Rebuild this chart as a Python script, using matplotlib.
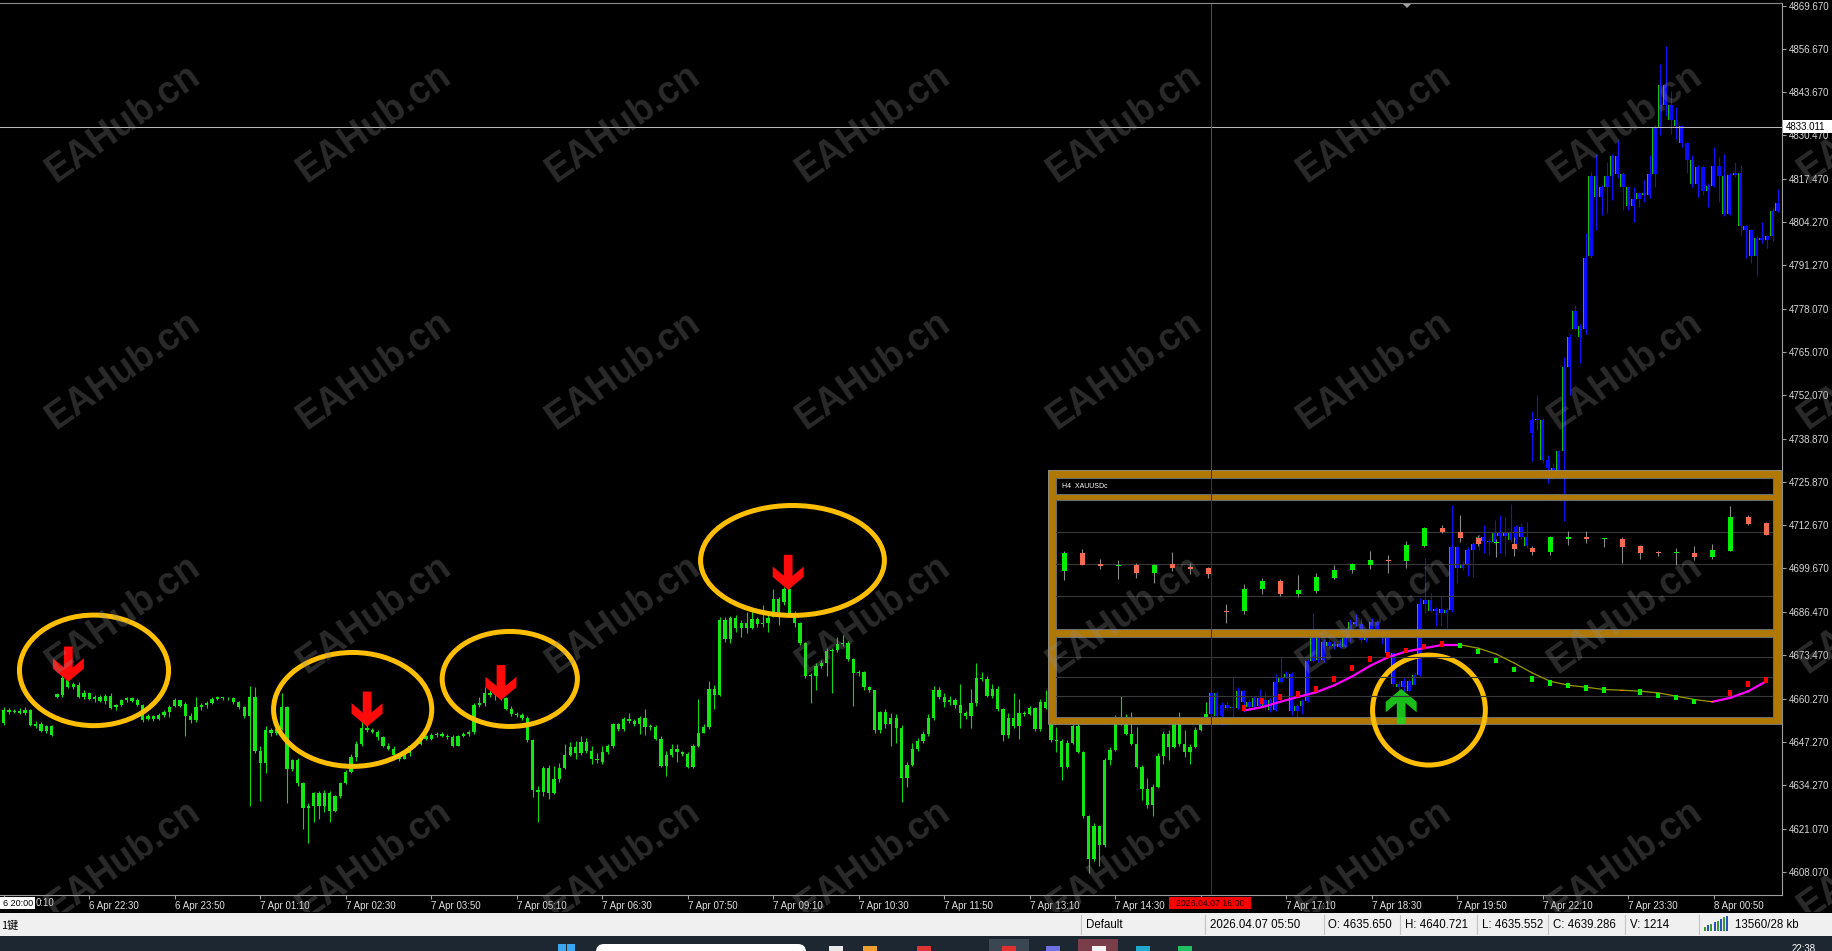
import numpy as np
import matplotlib
matplotlib.use("Agg")
import matplotlib.pyplot as plt
from matplotlib.patches import Rectangle, Ellipse, Polygon, FancyBboxPatch
from matplotlib.transforms import Affine2D

plt.rcParams['font.family'] = ['Liberation Sans', 'DejaVu Sans']

W, H, DPI = 1833, 951, 100

# ---------------- main chart: XAUUSD M5 bars ----------------
opens = [
    4653.0, 4657.0, 4656.2, 4656.7, 4656.0, 4657.0, 4652.8, 4652.8, 4652.0, 4652.0,
    4660.8, 4661.5, 4667.0, 4664.0, 4664.5, 4661.0, 4662.0, 4660.2, 4661.0, 4659.7,
    4661.3, 4657.8, 4658.4, 4659.8, 4660.4, 4660.0, 4658.5, 4654.2, 4655.2, 4654.2,
    4655.4, 4656.2, 4658.0, 4659.8, 4658.6, 4655.2, 4654.0, 4657.8, 4658.4, 4659.0,
    4660.3, 4660.8, 4660.4, 4660.6, 4659.2, 4657.8, 4655.0, 4661.0, 4644.5, 4640.8,
    4650.8, 4650.0, 4651.2, 4657.8, 4639.2, 4641.8, 4634.8, 4627.2, 4628.0, 4631.8,
    4628.0, 4631.8, 4626.5, 4630.8, 4634.8, 4638.2, 4642.8, 4646.8, 4651.5, 4650.8,
    4650.4, 4648.8, 4646.2, 4645.2, 4643.2, 4642.2, 4643.8, 4646.0, 4646.8, 4649.0,
    4648.2, 4649.4, 4649.8, 4649.2, 4648.8, 4646.2, 4649.0, 4649.8, 4650.2, 4658.5,
    4659.0, 4662.2, 4661.5, 4662.2, 4660.5, 4657.2, 4655.8, 4655.4, 4654.5, 4648.0,
    4632.8, 4632.2, 4639.5, 4631.8, 4636.0, 4639.5, 4643.2, 4645.8, 4643.8, 4647.2,
    4644.5, 4642.2, 4641.1, 4644.3, 4646.1, 4652.6, 4651.1, 4654.1, 4653.5, 4652.8,
    4654.5, 4651.7, 4651.9, 4648.3, 4640.1, 4643.3, 4645.1, 4644.1, 4643.6, 4639.6,
    4646.1, 4649.9, 4651.9, 4663.3, 4661.6, 4684.1, 4678.3, 4684.6, 4681.6, 4683.1,
    4681.8, 4684.5, 4682.9, 4683.1, 4685.1, 4690.6, 4689.6, 4693.6, 4686.3, 4683.1,
    4677.1, 4667.1, 4667.3, 4670.3, 4671.1, 4674.6, 4674.9, 4676.9, 4677.3, 4672.3,
    4668.1, 4668.3, 4663.9, 4662.9, 4650.9, 4656.3, 4652.6, 4654.6, 4651.6, 4636.3,
    4640.3, 4645.1, 4647.7, 4649.7, 4654.6, 4662.9, 4660.9, 4659.3, 4659.9, 4658.3,
    4656.1, 4655.1, 4659.1, 4666.6, 4666.3, 4661.3, 4663.3, 4657.1, 4649.3, 4654.6,
    4652.1, 4656.1, 4655.7, 4657.5, 4651.1, 4659.3, 4657.6, 4647.8, 4647.6, 4639.8,
    4647.0, 4652.0, 4644.3, 4624.8, 4612.0, 4622.0, 4616.0, 4641.8, 4644.8, 4652.6,
    4654.8, 4649.8, 4646.8, 4639.8, 4633.2, 4628.3, 4633.8, 4643.0, 4649.8, 4645.8,
    4652.8, 4646.6, 4644.2, 4645.8, 4651.0, 4653.0, 4655.8, 4662.0, 4655.0, 4658.3,
    4657.6, 4657.4, 4662.6, 4659.3, 4657.8, 4660.6, 4658.2, 4659.8, 4657.0, 4665.3,
    4667.0, 4667.8, 4656.6, 4658.0, 4659.6, 4671.6, 4678.8, 4672.0, 4677.6, 4676.2,
    4676.8, 4676.0, 4679.0, 4683.6, 4683.0, 4678.0, 4680.0, 4683.6, 4679.8, 4680.0,
    4674.0, 4664.8, 4664.0, 4665.8, 4664.6, 4667.4, 4689.0, 4690.3, 4686.8, 4687.3,
    4686.3, 4687.1, 4706.1, 4699.8, 4700.6, 4705.3, 4707.1, 4709.1, 4708.1, 4707.7,
    4710.3, 4709.5, 4710.3, 4708.3, 4712.1, 4709.1, 4740.6, 4744.8, 4744.4, 4732.4,
    4730.1, 4728.4, 4735.1, 4760.4, 4772.0, 4773.0, 4772.1, 4794.0, 4818.2, 4811.8,
    4814.8, 4818.2, 4824.2, 4818.8, 4814.8, 4809.2, 4811.2, 4813.0, 4812.4, 4818.8,
    4832.8, 4845.8, 4839.8, 4835.2, 4833.2, 4828.2, 4823.0, 4815.8, 4821.0, 4813.8,
    4815.2, 4821.2, 4818.2, 4806.8, 4818.5, 4819.2, 4803.2, 4801.8, 4794.2, 4799.5,
    4799.0, 4800.0, 4807.8]
highs = [
    4657.8, 4657.5, 4657.2, 4657.4, 4657.8, 4657.2, 4653.5, 4653.2, 4652.5, 4652.4,
    4662.2, 4667.5, 4667.8, 4665.5, 4665.5, 4663.0, 4662.5, 4661.5, 4661.4, 4661.8,
    4662.0, 4658.8, 4660.2, 4661.0, 4660.8, 4660.5, 4658.8, 4655.8, 4655.5, 4656.0,
    4657.0, 4658.5, 4660.4, 4660.0, 4659.2, 4656.0, 4660.8, 4659.0, 4659.5, 4660.8,
    4661.2, 4661.0, 4661.0, 4660.9, 4659.5, 4658.2, 4664.2, 4663.8, 4646.0, 4652.0,
    4651.5, 4652.0, 4662.2, 4658.2, 4642.2, 4642.5, 4635.2, 4628.8, 4632.2, 4632.5,
    4632.8, 4632.5, 4631.2, 4635.2, 4638.8, 4643.5, 4647.5, 4654.2, 4653.0, 4651.5,
    4651.0, 4649.2, 4647.0, 4646.0, 4644.0, 4644.5, 4646.5, 4647.2, 4650.0, 4649.5,
    4650.0, 4650.2, 4650.2, 4649.8, 4649.5, 4649.5, 4650.2, 4650.8, 4659.0, 4661.0,
    4663.8, 4663.8, 4663.8, 4664.5, 4661.0, 4658.2, 4656.2, 4656.0, 4655.0, 4648.2,
    4634.0, 4640.0, 4640.2, 4640.0, 4641.0, 4646.8, 4647.2, 4647.5, 4649.0, 4648.5,
    4646.0, 4644.0, 4646.1, 4646.6, 4653.1, 4652.9, 4654.9, 4656.1, 4654.1, 4655.1,
    4657.3, 4652.6, 4652.3, 4649.1, 4644.6, 4646.6, 4646.6, 4644.6, 4644.3, 4646.6,
    4660.1, 4652.6, 4665.6, 4664.6, 4684.9, 4685.1, 4685.3, 4685.6, 4684.1, 4686.6,
    4687.1, 4684.9, 4688.6, 4685.6, 4693.6, 4691.1, 4694.1, 4694.3, 4686.9, 4683.6,
    4677.6, 4668.1, 4671.1, 4672.1, 4675.6, 4675.6, 4679.1, 4679.6, 4677.9, 4672.6,
    4669.1, 4668.7, 4664.3, 4663.1, 4656.6, 4657.1, 4656.1, 4655.6, 4652.3, 4641.1,
    4647.1, 4648.6, 4650.6, 4655.6, 4664.1, 4663.9, 4662.1, 4661.1, 4660.6, 4664.9,
    4656.6, 4663.3, 4671.1, 4668.3, 4667.1, 4664.9, 4664.1, 4657.6, 4656.1, 4662.1,
    4660.1, 4656.6, 4658.1, 4657.9, 4660.1, 4663.1, 4658.0, 4651.8, 4648.3, 4647.8,
    4652.8, 4653.0, 4644.6, 4625.3, 4622.8, 4622.3, 4642.3, 4645.6, 4655.3, 4661.3,
    4655.6, 4656.3, 4651.8, 4640.3, 4636.3, 4634.6, 4643.8, 4650.6, 4650.8, 4653.8,
    4656.3, 4650.8, 4646.6, 4651.8, 4654.8, 4659.3, 4662.6, 4662.6, 4659.3, 4659.3,
    4667.3, 4663.8, 4663.0, 4660.3, 4661.3, 4663.3, 4662.3, 4660.6, 4667.8, 4672.8,
    4668.6, 4668.3, 4658.8, 4660.3, 4672.3, 4686.3, 4681.3, 4678.3, 4678.0, 4677.8,
    4678.3, 4679.8, 4684.3, 4685.8, 4684.8, 4680.8, 4684.6, 4684.0, 4680.6, 4680.3,
    4674.3, 4665.8, 4666.6, 4666.3, 4668.0, 4690.8, 4702.8, 4692.3, 4688.1, 4691.3,
    4687.8, 4718.8, 4706.8, 4701.8, 4706.3, 4707.8, 4710.1, 4712.8, 4708.8, 4714.3,
    4715.8, 4715.3, 4719.3, 4712.8, 4713.3, 4713.8, 4747.1, 4752.1, 4745.1, 4734.1,
    4731.6, 4735.6, 4763.6, 4770.6, 4779.4, 4773.6, 4801.1, 4819.5, 4825.0, 4815.5,
    4822.5, 4824.8, 4829.0, 4819.5, 4814.8, 4815.0, 4813.5, 4817.0, 4824.5, 4833.5,
    4852.0, 4857.5, 4844.0, 4839.0, 4833.5, 4828.5, 4824.5, 4821.5, 4821.5, 4816.0,
    4827.0, 4824.0, 4825.0, 4819.0, 4822.5, 4821.5, 4803.5, 4802.2, 4800.0, 4804.2,
    4800.5, 4808.5, 4814.2]
lows = [
    4652.5, 4655.8, 4656.0, 4655.6, 4655.5, 4652.0, 4651.5, 4650.2, 4650.0, 4649.0,
    4660.6, 4661.0, 4663.5, 4663.2, 4660.5, 4660.2, 4659.8, 4659.2, 4659.2, 4658.8,
    4657.2, 4657.0, 4658.2, 4659.2, 4659.4, 4658.2, 4653.4, 4653.8, 4653.6, 4653.8,
    4654.8, 4654.8, 4657.8, 4657.8, 4649.0, 4653.0, 4653.2, 4657.0, 4657.5, 4658.8,
    4659.8, 4660.0, 4659.8, 4658.8, 4657.2, 4654.5, 4628.0, 4644.0, 4629.5, 4638.0,
    4649.0, 4649.5, 4650.8, 4628.8, 4638.5, 4634.0, 4621.0, 4616.8, 4623.0, 4624.0,
    4626.0, 4623.0, 4626.0, 4630.2, 4634.5, 4638.0, 4641.5, 4646.0, 4650.2, 4650.0,
    4648.0, 4645.8, 4644.8, 4642.5, 4641.5, 4642.0, 4643.0, 4645.8, 4646.5, 4647.8,
    4647.8, 4648.8, 4648.8, 4648.2, 4645.8, 4646.0, 4648.8, 4649.2, 4649.8, 4657.8,
    4658.2, 4660.8, 4659.8, 4659.8, 4656.8, 4655.2, 4654.8, 4653.8, 4647.2, 4630.5,
    4623.0, 4631.0, 4630.0, 4631.5, 4635.2, 4639.0, 4643.0, 4642.2, 4643.2, 4643.8,
    4640.5, 4641.0, 4640.6, 4643.6, 4645.3, 4650.6, 4650.6, 4652.9, 4652.1, 4649.6,
    4649.3, 4650.9, 4647.9, 4639.6, 4637.1, 4642.6, 4641.1, 4643.1, 4639.3, 4639.3,
    4645.6, 4649.9, 4651.3, 4657.1, 4661.1, 4677.6, 4677.1, 4680.6, 4679.1, 4680.1,
    4681.3, 4682.1, 4682.1, 4680.6, 4684.9, 4682.6, 4688.6, 4685.9, 4682.1, 4676.6,
    4666.6, 4659.1, 4663.1, 4669.6, 4667.1, 4662.1, 4674.3, 4676.3, 4671.6, 4658.1,
    4667.3, 4663.1, 4662.3, 4650.1, 4650.1, 4651.6, 4646.1, 4647.1, 4629.1, 4633.6,
    4639.9, 4644.6, 4647.1, 4649.1, 4653.9, 4660.1, 4657.9, 4658.3, 4657.6, 4651.6,
    4654.3, 4651.6, 4658.1, 4665.6, 4661.0, 4660.6, 4656.6, 4647.6, 4648.6, 4651.6,
    4648.1, 4655.1, 4655.3, 4650.6, 4650.6, 4657.1, 4647.3, 4644.3, 4635.8, 4639.3,
    4646.6, 4643.8, 4624.3, 4607.8, 4611.3, 4609.8, 4615.6, 4640.3, 4644.6, 4652.3,
    4649.3, 4646.3, 4639.3, 4629.8, 4627.3, 4624.8, 4633.3, 4640.6, 4641.8, 4645.3,
    4646.0, 4642.8, 4640.6, 4645.3, 4650.6, 4652.8, 4654.6, 4654.8, 4652.3, 4657.0,
    4654.8, 4657.3, 4656.3, 4657.0, 4657.3, 4657.8, 4657.0, 4656.3, 4656.6, 4665.0,
    4666.6, 4655.3, 4654.0, 4655.6, 4659.3, 4671.3, 4671.3, 4671.3, 4675.6, 4675.3,
    4675.6, 4675.6, 4677.6, 4682.3, 4677.3, 4677.6, 4679.6, 4679.3, 4676.8, 4673.3,
    4664.3, 4662.3, 4662.3, 4662.3, 4664.6, 4667.3, 4686.3, 4686.5, 4682.3, 4682.3,
    4681.8, 4686.5, 4695.3, 4699.3, 4697.3, 4697.1, 4705.3, 4704.3, 4703.8, 4707.1,
    4704.3, 4703.3, 4707.8, 4706.8, 4708.5, 4705.8, 4732.1, 4741.6, 4731.6, 4725.6,
    4726.6, 4727.4, 4714.1, 4752.1, 4771.6, 4761.6, 4770.6, 4793.5, 4802.0, 4806.5,
    4807.0, 4811.0, 4817.5, 4808.0, 4808.0, 4804.2, 4809.0, 4810.5, 4811.5, 4815.0,
    4830.5, 4836.5, 4831.0, 4829.5, 4827.0, 4819.0, 4815.0, 4812.0, 4812.5, 4809.0,
    4815.0, 4810.5, 4806.0, 4806.5, 4818.0, 4800.5, 4793.5, 4792.0, 4788.0, 4798.0,
    4796.5, 4798.5, 4807.5]
closes = [
    4657.0, 4656.2, 4656.7, 4656.0, 4657.0, 4652.5, 4652.0, 4650.5, 4650.5, 4649.5,
    4661.8, 4666.5, 4664.0, 4664.8, 4661.0, 4662.2, 4660.2, 4661.0, 4659.7, 4661.3,
    4657.5, 4658.4, 4659.8, 4660.4, 4659.7, 4658.5, 4654.0, 4655.2, 4654.2, 4655.4,
    4656.4, 4657.8, 4659.8, 4658.2, 4655.2, 4653.8, 4657.8, 4658.4, 4659.0, 4660.3,
    4660.8, 4660.4, 4660.6, 4659.2, 4657.7, 4655.0, 4661.0, 4644.5, 4640.8, 4650.8,
    4650.0, 4651.2, 4657.8, 4639.2, 4641.8, 4634.8, 4627.2, 4628.0, 4631.8, 4628.0,
    4631.8, 4626.5, 4630.8, 4634.8, 4638.2, 4642.8, 4646.8, 4651.5, 4650.8, 4650.4,
    4648.8, 4646.2, 4645.2, 4643.2, 4642.2, 4643.8, 4646.0, 4646.8, 4649.0, 4648.2,
    4649.4, 4649.8, 4649.2, 4648.8, 4646.2, 4649.0, 4649.8, 4650.2, 4658.5, 4659.0,
    4662.2, 4661.5, 4662.2, 4660.5, 4657.2, 4655.8, 4655.4, 4654.5, 4648.0, 4632.8,
    4632.2, 4639.5, 4631.8, 4636.0, 4639.5, 4643.2, 4645.8, 4643.8, 4647.2, 4644.5,
    4642.2, 4641.8, 4644.3, 4646.1, 4652.6, 4651.1, 4654.1, 4653.5, 4652.8, 4654.5,
    4651.7, 4651.9, 4648.3, 4640.1, 4643.3, 4645.1, 4644.1, 4643.6, 4639.6, 4646.1,
    4649.9, 4651.9, 4663.3, 4661.6, 4684.1, 4678.3, 4684.6, 4681.6, 4683.1, 4681.8,
    4684.5, 4682.9, 4683.1, 4684.7, 4690.6, 4686.6, 4693.6, 4686.3, 4683.1, 4677.1,
    4667.1, 4667.3, 4670.3, 4671.1, 4674.6, 4674.9, 4676.9, 4677.3, 4672.3, 4668.1,
    4668.3, 4663.9, 4662.9, 4650.9, 4656.3, 4652.6, 4654.6, 4651.6, 4636.3, 4640.3,
    4645.1, 4647.7, 4649.7, 4654.6, 4662.9, 4660.9, 4659.3, 4659.9, 4658.3, 4656.1,
    4655.1, 4659.1, 4666.6, 4666.3, 4661.3, 4663.3, 4657.1, 4649.3, 4654.6, 4652.1,
    4656.1, 4655.7, 4657.5, 4651.1, 4659.3, 4657.6, 4647.8, 4647.6, 4639.8, 4647.0,
    4652.0, 4644.3, 4624.8, 4612.0, 4622.0, 4616.0, 4641.8, 4644.8, 4652.6, 4654.8,
    4649.8, 4646.8, 4639.8, 4633.2, 4628.3, 4633.8, 4643.0, 4649.8, 4645.8, 4652.8,
    4646.6, 4644.2, 4645.8, 4651.0, 4653.0, 4655.8, 4662.0, 4655.0, 4658.3, 4657.6,
    4657.4, 4662.6, 4659.3, 4657.8, 4660.6, 4658.2, 4659.8, 4657.0, 4665.3, 4667.0,
    4667.8, 4656.6, 4658.0, 4659.6, 4671.6, 4678.8, 4672.0, 4677.6, 4676.2, 4676.8,
    4676.0, 4679.0, 4683.6, 4683.0, 4678.0, 4680.0, 4683.6, 4679.8, 4680.0, 4674.0,
    4664.8, 4664.0, 4665.8, 4662.8, 4667.4, 4689.0, 4690.3, 4686.8, 4687.3, 4686.3,
    4687.1, 4706.1, 4699.8, 4700.6, 4705.3, 4707.1, 4709.1, 4708.1, 4707.7, 4710.3,
    4709.5, 4710.3, 4708.3, 4712.1, 4709.1, 4706.5, 4744.6, 4744.4, 4732.4, 4730.1,
    4728.4, 4735.1, 4760.4, 4769.6, 4777.6, 4769.6, 4793.4, 4818.2, 4811.8, 4814.8,
    4818.2, 4824.2, 4818.8, 4814.8, 4809.2, 4811.2, 4813.0, 4812.4, 4818.8, 4832.8,
    4845.8, 4839.8, 4835.2, 4833.2, 4828.2, 4823.0, 4815.8, 4821.0, 4813.8, 4815.2,
    4821.2, 4818.2, 4806.8, 4818.5, 4819.2, 4803.2, 4801.8, 4794.2, 4799.5, 4799.0,
    4800.0, 4807.8, 4810.0]
blue_from = 226          # bars from the 16:00 line onward are painted blue

# first label sits under the "6 20:00" box, the 15:50 one under the red 16:00 box
time_ticks = [0, 16, 32, 48, 64, 80, 96, 112, 128, 144, 160, 176, 192, 208, 224,
              240, 256, 272, 288, 304, 320]
time_labels = ["", "6 Apr 22:30", "6 Apr 23:50", "7 Apr 01:10", "7 Apr 02:30",
               "7 Apr 03:50", "7 Apr 05:10", "7 Apr 06:30", "7 Apr 07:50", "7 Apr 09:10",
               "7 Apr 10:30", "7 Apr 11:50", "7 Apr 13:10", "7 Apr 14:30", "",
               "7 Apr 17:10", "7 Apr 18:30", "7 Apr 19:50", "7 Apr 22:10", "7 Apr 23:30",
               "8 Apr 00:50"]
price_labels = ["4869.670", "4856.670", "4843.670", "4830.470", "4817.470", "4804.270",
                "4791.270", "4778.070", "4765.070", "4752.070", "4738.870", "4725.870",
                "4712.670", "4699.670", "4686.470", "4673.470", "4660.270", "4647.270",
                "4634.270", "4621.070", "4608.070"]

cross_price = 4833.011
cross_bar = 226

# red sell arrows (tip bar, tip price) and the green buy arrow
sell_arrows = [(12.1, 4665.5), (68.0, 4651.9), (93.05, 4659.9), (146.8, 4693.2)]
buy_arrow = (261.5, 4663.3)
# hand-drawn rings: centre bar, centre price, width in bars, height in price
rings = [(16.9, 4668.9, 27.9, 33.4), (65.3, 4657.1, 29.6, 34.4), (94.7, 4666.3, 25.3, 28.7),
         (147.6, 4702.1, 34.4, 33.2), (266.7, 4656.9, 21.1, 33.2)]

# ---------------- H4 overlay window ----------------
h4_open = [4699.0, 4704.4, 4701.0, 4700.4, 4700.8, 4698.3, 4700.9, 4700.1, 4699.8, 4686.9,
           4686.9, 4693.6, 4695.9, 4692.0, 4692.8, 4696.8, 4699.2, 4700.8, 4702.1, 4701.8,
           4706.6, 4712.0, 4710.8, 4708.9, 4707.4, 4707.2, 4705.8, 4704.8, 4708.7, 4709.1,
           4708.5, 4708.6, 4706.4, 4704.5, 4704.2, 4704.4, 4703.1, 4705.1, 4715.1, 4713.4]
h4_high = [4705.1, 4705.6, 4702.4, 4702.1, 4701.4, 4701.1, 4704.8, 4701.4, 4700.1, 4688.8,
           4695.1, 4696.9, 4696.4, 4697.6, 4698.4, 4700.6, 4701.4, 4704.9, 4703.8, 4708.1,
           4712.3, 4712.8, 4715.8, 4709.8, 4708.6, 4709.1, 4706.4, 4709.6, 4711.1, 4711.1,
           4708.8, 4709.1, 4706.8, 4705.1, 4705.8, 4706.4, 4707.1, 4718.4, 4715.8, 4713.6]
h4_low = [4696.1, 4700.6, 4699.4, 4696.6, 4696.8, 4695.4, 4698.8, 4698.1, 4696.8, 4683.1,
          4685.8, 4692.1, 4691.4, 4691.1, 4692.4, 4696.4, 4698.4, 4699.4, 4698.4, 4699.8,
          4706.1, 4710.4, 4707.8, 4706.6, 4703.1, 4703.4, 4703.8, 4703.6, 4706.9, 4707.4,
          4706.1, 4701.4, 4702.6, 4703.4, 4700.6, 4702.1, 4702.6, 4705.1, 4712.8, 4709.8]
h4_close = [4704.4, 4700.8, 4700.3, 4700.7, 4698.3, 4700.8, 4699.9, 4699.6, 4698.0, 4686.6,
            4693.6, 4695.9, 4691.9, 4693.1, 4697.1, 4699.3, 4700.9, 4702.1, 4701.8, 4706.7,
            4712.0, 4710.6, 4708.8, 4707.0, 4707.8, 4705.6, 4704.8, 4709.1, 4709.0, 4708.6,
            4708.7, 4706.3, 4704.4, 4704.2, 4704.5, 4703.2, 4705.3, 4715.1, 4713.1, 4709.9]
ma_start = 10
ma_vals = [4656.8, 4657.8, 4659.4, 4660.9, 4662.3, 4664.4, 4667.1, 4670.3, 4672.9, 4674.6,
           4675.6, 4676.6, 4676.6, 4675.6, 4673.8, 4671.1, 4668.1, 4665.6, 4664.4, 4663.8,
           4663.1, 4662.9, 4662.6, 4662.1, 4661.1, 4660.1, 4659.4, 4660.6, 4662.6, 4665.6]
dot_vals = [4657.4, 4659.6, 4660.8, 4661.8, 4663.4, 4666.3, 4669.6, 4672.4, 4673.6, 4674.9,
            4676.1, 4676.9, 4676.4, 4674.6, 4671.8, 4669.1, 4666.3, 4665.1, 4664.3, 4663.6,
            4663.0, 4662.9, 4662.4, 4661.4, 4660.6, 4659.5, 4659.4, 4662.1, 4664.9, 4666.1]
dot_state = ['up'] * 12 + ['down'] * 9 + ['flat'] + ['down'] * 4 + ['flat'] + ['up'] * 3
h4_grid = [4710.6, 4701.1, 4691.3, 4673.0, 4667.0, 4661.1]

# ---------------- figure ----------------
fig = plt.figure(figsize=(W / DPI, H / DPI), dpi=DPI, facecolor='black')


def fbox(x0, y0, x1, y1):
    return [x0 / W, 1 - y1 / H, (x1 - x0) / W, (y1 - y0) / H]


pix = Affine2D().scale(1 / DPI, -1 / DPI).translate(0, H / DPI) + fig.dpi_scale_trans

ax = fig.add_axes(fbox(0, 4, 1782, 895))
ax.set_facecolor('black')
ax.set_zorder(1)
ax.set_xlim(-0.69, 332.76)
ax.set_ylim(4601.04, 4870.19)
for s in ['top', 'left']:
    ax.spines[s].set_visible(False)
for s in ['right', 'bottom']:
    ax.spines[s].set_color('#a0a0a0')
    ax.spines[s].set_linewidth(0.8)

o, h, l, c = map(np.array, (opens, highs, lows, closes))
x = np.arange(len(o))
lo = np.minimum(o, c)
body = np.maximum(np.abs(c - o), 0.3)
g = x < blue_from
b = ~g
ax.vlines(x[g], l[g], h[g], colors='#12d812', lw=0.8, zorder=2)
ax.bar(x[g], body[g], 0.62, lo[g], color='#14e614', lw=0, zorder=2.1)
ax.vlines(x[b], l[b], h[b], colors='#1010ff', lw=0.8, zorder=2)
ax.bar(x[b] - 0.17, body[b], 0.62, lo[b], color='#10c010', lw=0, zorder=2.1)
ax.bar(x[b], body[b], 0.62, lo[b], color='#0a0aff', lw=0, zorder=2.2)

ax.axhline(cross_price, color='#b8b8b8', lw=0.75, zorder=3)
# period line: dim above the H4 window, red from the window down
ax.plot([cross_bar, cross_bar], [4870.19, 4729.3], color='#4a4a4a', lw=0.75, zorder=4.8)
ax.plot([cross_bar, cross_bar], [4729.3, 4601.04], color='#b00000', lw=0.75, zorder=4.8)

# axes ticks
ax.yaxis.tick_right()
ax.set_yticks([float(p) for p in price_labels], price_labels)
ax.set_xticks(time_ticks, time_labels)
ax.tick_params(axis='y', colors='#a0a0a0', labelcolor='#d8d8d8', labelsize=7,
               length=3, width=0.8, pad=2)
ax.tick_params(axis='x', colors='#a0a0a0', labelcolor='#e0e0e0', labelsize=7,
               length=3, width=0.8, pad=1.5)
for lbl in ax.get_xticklabels():
    lbl.set_horizontalalignment('left')

# H4 window frame (gold bars drawn over the chart)
GOLD = '#b07804'
gold_bars = [(1048, 470, 1782, 478), (1048, 494, 1782, 500), (1048, 629, 1782, 637),
             (1048, 717, 1782, 724), (1048, 470, 1056, 724), (1773, 470, 1782, 724)]
for x0, y0, x1, y1 in gold_bars:
    ax.add_patch(Rectangle((x0, y0), x1 - x0, y1 - y0, transform=pix, facecolor=GOLD,
                           lw=0, zorder=4, clip_on=False))
for x0, y0, x1, y1 in [(1056, 478, 1773, 494), (1056, 500, 1773, 629), (1056, 637, 1773, 717)]:
    ax.add_patch(Rectangle((x0, y0), x1 - x0, y1 - y0, transform=pix, facecolor='none',
                           edgecolor='#6c6c6c', lw=0.8, zorder=4.5, clip_on=False))
ax.add_patch(Rectangle((1048, 470), 734, 254, transform=pix, facecolor='none',
                       edgecolor='#8a8a8a', lw=0.6, zorder=4.5, clip_on=False))

# arrows
shape = [(-0.14, 1.0), (0.14, 1.0), (0.14, 0.40), (0.5, 0.667), (0.5, 0.37), (0.0, 0.0),
         (-0.5, 0.37), (-0.5, 0.667), (-0.14, 0.40)]
AW, AH = 5.8, 10.6
for tx, ty in sell_arrows:
    pts = [(tx + u * AW, ty + v * AH) for u, v in shape]
    ax.add_patch(Polygon(pts, closed=True, facecolor='#ff0a0a', lw=0, zorder=5))
tx, ty = buy_arrow
pts = [(tx + u * AW, ty - v * AH) for u, v in shape]
ax.add_patch(Polygon(pts, closed=True, facecolor='#1ed81e', alpha=0.88, lw=0, zorder=5))

for cx, cy, ew, eh in rings:
    ax.add_patch(Ellipse((cx, cy), ew, eh, facecolor='none', edgecolor='#ffbf00',
                         lw=3.6, zorder=6))

# ---------------- H4 window content ----------------
ins = fig.add_axes(fbox(1056, 500, 1773, 717))
ins.set_zorder(2)
ins.patch.set_alpha(0)
ins.axis('off')
ins.set_xlim(-0.461, 39.37)
ins.set_ylim(4654.81, 4720.36)
for gy in h4_grid:
    ins.axhline(gy, color='#383838', lw=0.8, zorder=1)
ho, hh, hl, hc = map(np.array, (h4_open, h4_high, h4_low, h4_close))
k = np.arange(len(ho))
ins.vlines(k, hl, hh, colors='#8a8a8a', lw=0.8, zorder=2)
up = hc >= ho
hlo = np.minimum(ho, hc)
hbody = np.maximum(np.abs(hc - ho), 0.35)
ins.bar(k[up], hbody[up], 0.27, hlo[up], color='#00f000', lw=0, zorder=3)
ins.bar(k[~up], hbody[~up], 0.27, hlo[~up], color='#f96a52', lw=0, zorder=3)

ma = np.array(ma_vals)
mk = np.arange(ma_start, ma_start + len(ma))
for j in range(len(ma) - 1):
    rising = ma[j + 1] >= ma[j]
    ins.plot(mk[j:j + 2], ma[j:j + 2], color='#ff00ff' if rising else '#9a9a00',
             lw=1.6 if rising else 0.9, zorder=4, solid_capstyle='round')
dot_col = {'up': '#ff0000', 'down': '#00f000', 'flat': '#ff8000'}
dot_h = {'up': 1.8, 'down': 1.6, 'flat': 0.35}
for kk, v, st in zip(mk, dot_vals, dot_state):
    ins.bar(kk, dot_h[st], 0.22, v - dot_h[st] / 2, color=dot_col[st], lw=0, zorder=5)

# ---------------- overlay: labels, status bar, task bar ----------------
over = fig.add_axes([0, 0, 1, 1])
over.set_zorder(4)
over.patch.set_alpha(0)
over.axis('off')
over.set_xlim(0, W)
over.set_ylim(H, 0)

over.plot([0, 1782], [2.5, 2.5], color='#8c8c8c', lw=0.8)
over.add_patch(Polygon([(1402, 3), (1412, 3), (1407, 8)], closed=True, facecolor='#a0a0a0', lw=0))

over.add_patch(Rectangle((1783, 120), 49, 13, facecolor='white', lw=0))
over.text(1786, 126.8, f"{cross_price:.3f}", color='black', fontsize=7, va='center')
over.add_patch(Rectangle((1169.5, 897), 81.5, 12, facecolor='#ff0000', lw=0))
over.text(1210, 903, "2026.04.07 16:00", color='#1a0000', fontsize=6.3, ha='center', va='center')
over.add_patch(Rectangle((0, 897), 35, 12, facecolor='white', lw=0))
over.text(33, 903, "6 20:00", color='black', fontsize=6.5, ha='right', va='center')
over.text(36, 903.5, "0:10", color='#e0e0e0', fontsize=7, va='center')
over.text(1062, 486.5, "H4  XAUUSDc", color='white', fontsize=5, va='center')

# status bar
over.add_patch(Rectangle((0, 913), W, 23, facecolor='#f0f0f0', lw=0))
for sx in [1081.5, 1204.6, 1323.6, 1399.8, 1477, 1548.5, 1624.7, 1699]:
    over.plot([sx, sx], [915, 934], color='#c4c4c4', lw=0.8)
status = [(1086, "Default"), (1210, "2026.04.07 05:50"), (1328, "O: 4635.650"),
          (1405, "H: 4640.721"), (1482, "L: 4635.552"), (1553, "C: 4639.286"),
          (1630, "V: 1214"), (1735, "13560/28 kb")]
for sx, st in status:
    over.text(sx, 925.5, st, color='black', fontsize=8.3, va='center')
over.text(1, 925.5, "1键", color='black', fontsize=8, va='center',
          family=['Noto Sans CJK SC', 'DejaVu Sans'])
for n in range(8):
    hgt = 4 + n * 1.6
    over.add_patch(Rectangle((1704 + n * 3.2, 931 - hgt), 2, hgt,
                             facecolor='#3a9a2a' if n % 2 == 0 else '#2a50c0', lw=0))

# task bar
over.add_patch(Rectangle((0, 936), W, 15, facecolor='#1c2731', lw=0))
for wx, wy in [(558, 944), (567, 944), (558, 953), (567, 953)]:
    over.add_patch(Rectangle((wx, wy), 8, 8, facecolor='#3aa6f0', lw=0))
over.add_patch(FancyBboxPatch((596, 944), 210, 20, boxstyle='round,pad=0,rounding_size=8',
                              facecolor='white', lw=0))
over.add_patch(Rectangle((989, 939), 40, 14, facecolor='#3a4652', lw=0))
over.add_patch(Rectangle((1078, 939), 40, 14, facecolor='#7a3e4a', lw=0))
for ix, col in [(829, '#e8e8e8'), (863, '#f0a030'), (917, '#e03434'), (1002, '#e03030'),
                (1046, '#7070e0'), (1092, '#f4f4f4'), (1136, '#22a8cc'), (1178, '#20c060')]:
    over.add_patch(Rectangle((ix, 946), 14, 8, facecolor=col, lw=0))
over.text(1792, 949, "22:38", color='white', fontsize=7, va='center')

# watermark (tiled, clipped to the chart and scale area)
wm = fig.add_axes(fbox(0, 0, W, 912))
wm.set_zorder(5)
wm.patch.set_alpha(0)
wm.axis('off')
wm.set_xlim(0, W)
wm.set_ylim(912, 0)
for wy in [123, 370, 614, 859]:
    for wx in [123, 374, 623, 873, 1124, 1374, 1625, 1875]:
        wm.text(wx, wy, "EAHub.cn", color='#8c8c8c', alpha=0.3, fontsize=27,
                fontweight='bold', rotation=35, ha='center', va='center',
                rotation_mode='anchor', clip_on=True)

fig.savefig('out.png', dpi=DPI, facecolor='black')
